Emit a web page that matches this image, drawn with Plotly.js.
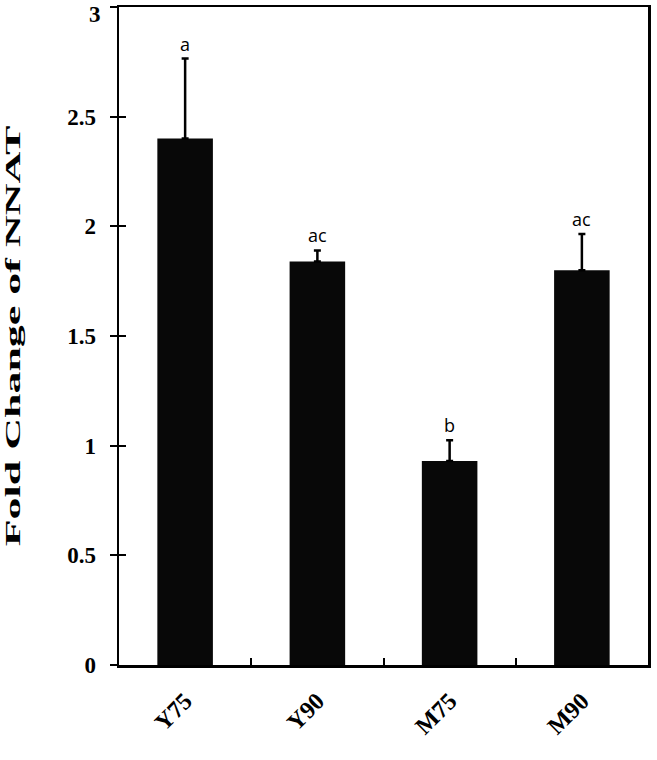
<!DOCTYPE html>
<html>
<head>
<meta charset="utf-8">
<script src="https://cdn.plot.ly/plotly-3.0.1.min.js"></script>
<style>html,body{margin:0;padding:0;background:#fff;}#chart{width:657px;height:760px;}</style>
</head>
<body>
<div id="chart"></div>
<script>
const categories = ["Y75", "Y90", "M75", "M90"];
const foldChange = [2.40, 1.84, 0.93, 1.80];
const errorPlus = [0.365, 0.05, 0.095, 0.165];
const sigLabels = ["a", "ac", "b", "ac"];
const yTicks = [0, 0.5, 1, 1.5, 2, 2.5, 3];
const yTickText = ["0", "0.5", "1", "1.5", "2", "2.5", "3"];

const serif = '"Liberation Serif", "Times New Roman", serif';
const tickFont = {family: serif, size: 23, color: '#000', weight: 'bold'};

const trace = {
  type: 'bar',
  x: categories,
  y: foldChange,
  width: 0.42,
  marker: {color: '#080808', line: {width: 0}},
  error_y: {type: 'data', symmetric: false, array: errorPlus, arrayminus: categories.map(() => 0),
            color: '#000', thickness: 2.5, width: 3.5},
  hoverinfo: 'skip'
};

const helper = {
  type: 'scatter', x: [], y: [], yaxis: 'y2', hoverinfo: 'skip', showlegend: false
};

const lastIdx = yTicks.length - 1;
const annotations = categories.map((c, i) => ({
  x: c, y: foldChange[i] + errorPlus[i], xref: 'x', yref: 'y',
  text: sigLabels[i], showarrow: false, yanchor: 'bottom', yshift: 1,
  font: {family: '"Open Sans", "Noto Sans", sans-serif', size: 18, color: '#000'}
}));
// top tick label drawn as annotation so it stays inside the page
annotations.push({
  x: 0, xref: 'paper', xanchor: 'right', xshift: -16,
  y: yTicks[lastIdx], yref: 'y', yanchor: 'top', yshift: 7,
  text: yTickText[lastIdx], showarrow: false, font: tickFont
});

const layout = {
  width: 657, height: 760,
  margin: {l: 119, r: 9, t: 7, b: 95},
  paper_bgcolor: '#fff', plot_bgcolor: '#fff',
  showlegend: false,
  xaxis: {
    type: 'category', range: [-0.5, 3.5],
    showline: true, linecolor: '#000', linewidth: 2.5, mirror: true,
    ticks: 'inside', tickson: 'boundaries', ticklen: 7, tickwidth: 2, tickcolor: '#000',
    tickangle: -45, showgrid: false, zeroline: false, ticklabelstandoff: 10,
    tickfont: {family: serif, size: 24, color: '#000', weight: 'bold'}
  },
  yaxis: {
    range: [0, 3], tickvals: yTicks, ticktext: yTickText.map((t, i) => i === lastIdx ? '' : t),
    showline: true, linecolor: '#000', linewidth: 2.5, mirror: true,
    ticks: 'outside', ticklen: 7, tickwidth: 2, tickcolor: '#000',
    showgrid: false, zeroline: false, ticklabelstandoff: 9,
    tickfont: tickFont,
    title: {text: 'Fold Change of NNAT', standoff: 42,
            font: {family: serif, size: 22, color: '#000', weight: 'bold'}}
  },
  yaxis2: {
    overlaying: 'y', side: 'left', range: [0, 3], tickvals: yTicks,
    ticks: 'inside', ticklen: 7, tickwidth: 2, tickcolor: '#000',
    showticklabels: false, showgrid: false, zeroline: false, showline: false
  },
  annotations: annotations
};

Plotly.newPlot('chart', [trace, helper], layout, {displayModeBar: false, staticPlot: true}).then(gd => {
  // stretch the y-axis title along its length, as in the reference
  const t = gd.querySelector('.g-ytitle text');
  if (t) {
    const x = parseFloat(t.getAttribute('x'));
    const y = parseFloat(t.getAttribute('y'));
    const tr = t.getAttribute('transform') || '';
    t.setAttribute('transform', tr + ` translate(${x},${y}) scale(2.0,1) translate(${-x},${-y})`);
  }
});
</script>
</body>
</html>
